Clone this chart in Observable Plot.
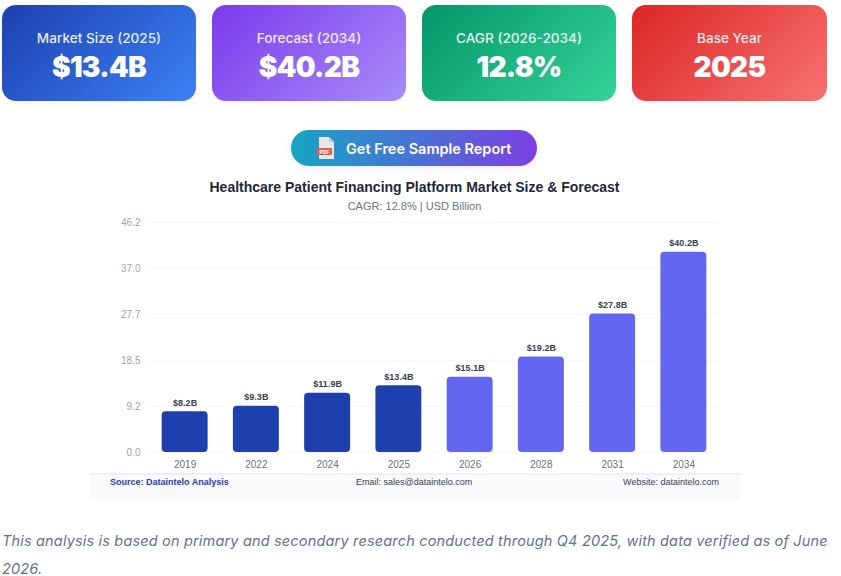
<!DOCTYPE html>
<html><head><meta charset="utf-8">
<script src="https://cdn.jsdelivr.net/npm/d3@7"></script>
<script src="https://cdn.jsdelivr.net/npm/@observablehq/plot@0.6"></script>
<style>
html,body{margin:0;padding:0;background:#fff;width:841px;height:576px;overflow:hidden;position:relative;font-family:"Liberation Sans",Arial,sans-serif}
.card{position:absolute;top:5px;height:96px;border-radius:14px;color:#fff;text-align:center;font-family:Inter,sans-serif;box-shadow:0 2px 6px rgba(0,0,0,.05)}
.card .l{position:absolute;left:0;right:0;top:24px;font-size:13.6px;line-height:18px;opacity:.88;font-weight:500}
.card .v{position:absolute;left:0;right:0;top:47px;font-size:28px;line-height:30px;font-weight:900;letter-spacing:-.7px}
#btn{position:absolute;left:291px;top:130px;width:246px;height:36px;border-radius:18px;background:linear-gradient(90deg,#17a5c4,#7c3fe4);box-shadow:0 3px 10px rgba(100,80,200,.1);color:#fff;font:600 14.5px/37px Inter,sans-serif}
#btn span{position:absolute;left:55px;top:0;white-space:nowrap}
#btn svg{position:absolute;left:26px;top:7px}
#title{position:absolute;left:0;width:829px;top:179px;text-align:center;font-size:14px;line-height:16px;font-weight:700;color:#1f2937}
#sub{position:absolute;left:0;width:829px;top:199px;text-align:center;font-size:11px;line-height:14px;color:#6b7280}
#chart{position:absolute;left:90px;top:215px}
#chart svg{display:block;overflow:visible}
#foot{position:absolute;left:90px;top:473px;width:650px;height:27px;background:#f9fafb;border-top:2px solid #eef0f3;box-sizing:border-box;font-size:9px;line-height:12px;color:#374151}
#foot div{position:absolute;top:1px;white-space:nowrap}
#note{position:absolute;left:2px;top:527px;width:835px;font:italic 14.5px/28px Inter,sans-serif;color:#64748b;letter-spacing:.17px}
</style></head><body>
<div id="cards"></div>
<div id="btn"><svg width="18" height="22" viewBox="0 0 18 22"><path d="M2 0h10l5 5v17H2z" fill="#e8e8ea"/><path d="M12 0l5 5h-5z" fill="#c9c9cd"/><rect x="0" y="11" width="15" height="7" rx="1" fill="#ea5b4c"/><text x="7.5" y="16.7" font-size="5" font-weight="700" text-anchor="middle" fill="#fff" font-family="Liberation Sans">PDF</text></svg><span>Get Free Sample Report</span></div>
<div id="title"></div>
<div id="sub"></div>
<div id="chart"></div>
<div id="foot"></div>
<div id="note"></div>
<script>
const years = ["2019","2022","2024","2025","2026","2028","2031","2034"];
const values = [8.2,9.3,11.9,13.4,15.1,19.2,27.8,40.2];
const yTicks = [0,9.24,18.48,27.72,36.96,46.2];
const barColors = ["#1e40af","#1e40af","#1e40af","#1e40af","#6366f1","#6366f1","#6366f1","#6366f1"];
const cardLabels = ["Market Size (2025)","Forecast (2034)","CAGR (2026-2034)","Base Year"];
const cardValues = ["$13.4B","$40.2B","12.8%","2025"];
const cardLefts = [2,212,422,632];
const cardWidths = [194,194,194,195];
const cardBgs = ["linear-gradient(135deg,#1e40af,#3b82f6)","linear-gradient(135deg,#7c3aed,#a78bfa)","linear-gradient(135deg,#059669,#34d399)","linear-gradient(135deg,#dc2626,#f87171)"];

document.getElementById("cards").innerHTML = cardLabels.map((l,i)=>
 `<div class="card" style="left:${cardLefts[i]}px;width:${cardWidths[i]}px;background:${cardBgs[i]}"><div class="l">${l}</div><div class="v">${cardValues[i]}</div></div>`).join("");
document.getElementById("title").textContent = "Healthcare Patient Financing Platform Market Size & Forecast";
document.getElementById("sub").textContent = "CAGR: 12.8% | USD Billion";
document.getElementById("foot").innerHTML = `<div style="left:20px;font-weight:700;color:#1e40af">Source: Dataintelo Analysis</div><div style="left:266px">Email: sales@dataintelo.com</div><div style="right:21px">Website: dataintelo.com</div>`;
document.getElementById("note").textContent = "This analysis is based on primary and secondary research conducted through Q4 2025, with data verified as of June 2026.";

const rows = years.map((y,i)=>({year:y,value:values[i],color:barColors[i]}));
const plot = Plot.plot({
  width:650,height:258,
  marginLeft:59,marginRight:21,marginTop:7,marginBottom:21,
  style:{fontFamily:'"Liberation Sans",Arial,sans-serif',fontSize:"10px",background:"transparent"},
  x:{domain:years,paddingInner:0.355,paddingOuter:0.1775,round:false,label:null,tickSize:0,tickPadding:8},
  y:{domain:[0,46.2],label:null},
  marks:[
    Plot.gridY(yTicks,{stroke:"#f6f7f8",strokeOpacity:1,strokeWidth:1}),
    Plot.axisY(yTicks,{tickSize:0,tickPadding:9,label:null,tickFormat:d=>d.toFixed(1),fill:"#9ca3af",fontSize:10}),
    Plot.axisX({tickSize:0,tickPadding:8,label:null,fill:"#6b7280",fontSize:10}),
    Plot.barY(rows,{x:"year",y:"value",fill:"color",rx:4,ry:4}),
    Plot.text(rows,{x:"year",y:"value",text:d=>`$${d.value.toFixed(1)}B`,dy:-9,fill:"#374151",fontWeight:700,fontSize:9})
  ]
});
document.getElementById("chart").appendChild(plot);
</script>
</body></html>
